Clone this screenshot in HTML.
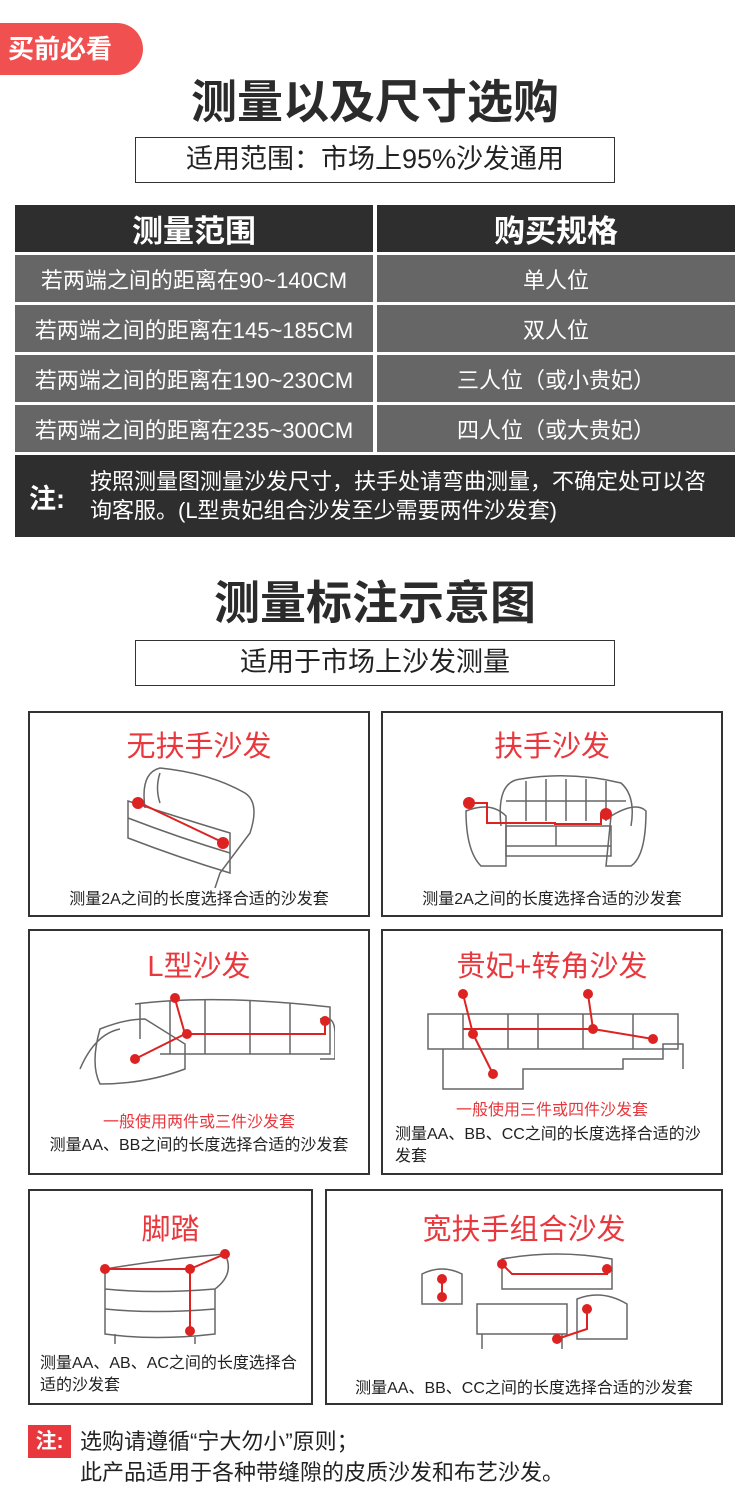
<!DOCTYPE html>
<html><head><meta charset="utf-8"><style>
*{margin:0;padding:0;box-sizing:border-box}
body{width:750px;height:1489px;background:#fff;position:relative;overflow:hidden;font-family:"Liberation Sans","Noto Sans CJK SC",sans-serif;color:#333}
.a{position:absolute}
.c{text-align:center}
.badge{left:0;top:23px;width:143px;height:52px;background:#f0504f;border-radius:0 26px 26px 0;color:#fff;font-size:26px;font-weight:bold;line-height:52px;padding-left:8px}
.t1{left:0;width:750px;font-size:46px;font-weight:bold;color:#2b2b2b}
.box{left:135px;width:480px;border:1.5px solid #333;font-size:27px;color:#222}
.cell{color:#fff;display:flex;align-items:center;justify-content:center}
.h{background:#2e2e2e;font-size:31px;font-weight:bold}
.g{background:#666;font-size:22px}
.card{border:2.5px solid #333}
.ct{color:#e8383d;font-size:29px;width:100%;text-align:center;position:absolute}
.cap{font-size:16px;color:#222;position:absolute;width:100%;text-align:center}
svg{position:absolute}
</style></head><body>
<div class="a badge">买前必看</div>
<div class="a t1 c" style="top:74px;line-height:56px">测量以及尺寸选购</div>
<div class="a box c" style="top:137px;height:46px;line-height:43px">适用范围：市场上95%沙发通用</div>

<div class="a cell h" style="left:15px;top:205px;width:358px;height:47px">测量范围</div>
<div class="a cell h" style="left:377px;top:205px;width:358px;height:47px">购买规格</div>
<div class="a cell g" style="left:15px;top:255px;width:358px;height:47px">若两端之间的距离在90~140CM</div>
<div class="a cell g" style="left:377px;top:255px;width:358px;height:47px">单人位</div>
<div class="a cell g" style="left:15px;top:305px;width:358px;height:47px">若两端之间的距离在145~185CM</div>
<div class="a cell g" style="left:377px;top:305px;width:358px;height:47px">双人位</div>
<div class="a cell g" style="left:15px;top:355px;width:358px;height:47px">若两端之间的距离在190~230CM</div>
<div class="a cell g" style="left:377px;top:355px;width:358px;height:47px">三人位（或小贵妃）</div>
<div class="a cell g" style="left:15px;top:405px;width:358px;height:47px">若两端之间的距离在235~300CM</div>
<div class="a cell g" style="left:377px;top:405px;width:358px;height:47px">四人位（或大贵妃）</div>
<div class="a" style="left:15px;top:455px;width:720px;height:82px;background:#2e2e2e;color:#fff">
 <div class="a" style="left:14px;top:22px;font-size:27px;font-weight:bold">注:</div>
 <div class="a" style="left:75px;top:12px;font-size:22px;line-height:29px;width:625px">按照测量图测量沙发尺寸，扶手处请弯曲测量，不确定处可以咨询客服。(L型贵妃组合沙发至少需要两件沙发套)</div>
</div>

<div class="a t1 c" style="top:575px;line-height:56px">测量标注示意图</div>
<div class="a box c" style="top:640px;height:46px;line-height:43px">适用于市场上沙发测量</div>

<div class="a card" style="left:28px;top:711px;width:342px;height:206px">
 <div class="ct" style="top:10px">无扶手沙发</div>
 <svg style="left:90px;top:50px" width="160" height="125" viewBox="0 0 160 125" fill="none" stroke="#666" stroke-width="1.5">
  <path d="M25 45 Q20 10 40 5 Q90 10 125 30 Q140 40 130 70 L100 110 L95 125"/>
  <path d="M40 40 Q35 25 40 10"/>
  <path d="M8 38 Q60 55 110 70 L110 110 Q60 95 8 75 Z"/>
  <path d="M8 55 Q60 75 110 90"/>
  <path d="M20 40 L100 78" stroke="#d22" stroke-width="2"/>
  <circle cx="18" cy="40" r="6" fill="#d22" stroke="none"/><circle cx="103" cy="80" r="6" fill="#d22" stroke="none"/>
 </svg>
 <div class="cap" style="top:172px">测量2A之间的长度选择合适的沙发套</div>
</div>
<div class="a card" style="left:381px;top:711px;width:342px;height:206px">
 <div class="ct" style="top:10px">扶手沙发</div>
 <svg style="left:78px;top:58px" width="190" height="105" viewBox="0 0 190 105" fill="none" stroke="#666" stroke-width="1.5">
  <path d="M40 55 Q35 10 60 8 Q110 0 160 12 Q175 25 170 55"/>
  <path d="M65 10 V50 M85 8 V50 M105 8 V50 M125 8 V50 M145 10 V50 M45 30 H165"/>
  <path d="M5 40 Q30 30 45 45 L45 95 H20 Q5 80 5 40 Z"/>
  <path d="M150 45 Q175 30 185 40 Q185 85 170 95 H145 Z"/>
  <path d="M45 55 H150 V85 H45 Z M95 55 V75 M45 75 H150"/>
  <path d="M8 32 H26 V52 H94 V53 H140 V44" stroke="#d22" stroke-width="2"/>
  <circle cx="8" cy="32" r="6" fill="#d22" stroke="none"/><circle cx="145" cy="43" r="6" fill="#d22" stroke="none"/>
 </svg>
 <div class="cap" style="top:172px">测量2A之间的长度选择合适的沙发套</div>
</div>
<div class="a card" style="left:28px;top:929px;width:342px;height:246px">
 <div class="ct" style="top:12px">L型沙发</div>
 <svg style="left:35px;top:58px" width="270" height="100" viewBox="0 0 270 100" fill="none" stroke="#666" stroke-width="1.5">
  <path d="M70 15 Q150 5 265 18 L265 65 H95 M75 15 V50"/>
  <path d="M105 12 V65 M140 10 V65 M185 12 V65 M225 14 V65"/>
  <path d="M35 40 Q60 30 80 30 L120 55 V80 Q80 95 35 95 Q25 75 35 40 Z M15 80 Q30 45 55 40"/>
  <path d="M255 30 Q270 25 270 45 V70 H255"/>
  <path d="M110 10 L120 45 H260 V32 M120 45 L70 70" stroke="#d22" stroke-width="2"/>
  <circle cx="110" cy="9" r="5" fill="#d22" stroke="none"/><circle cx="122" cy="45" r="5" fill="#d22" stroke="none"/><circle cx="260" cy="32" r="5" fill="#d22" stroke="none"/><circle cx="70" cy="70" r="5" fill="#d22" stroke="none"/>
 </svg>
 <div class="a c" style="left:0;width:100%;top:177px;font-size:16px;color:#e8383d">一般使用两件或三件沙发套</div>
 <div class="cap" style="top:200px">测量AA、BB之间的长度选择合适的沙发套</div>
</div>
<div class="a card" style="left:381px;top:929px;width:342px;height:246px">
 <div class="ct" style="top:12px">贵妃+转角沙发</div>
 <svg style="left:40px;top:58px" width="265" height="105" viewBox="0 0 265 105" fill="none" stroke="#666" stroke-width="1.5">
  <path d="M5 25 H255 V60 H5 Z M40 25 V60 M85 25 V60 M115 25 V60 M160 25 V60 M210 25 V60"/>
  <path d="M20 60 V100 H100 V80 H200 V70 H240 V55 H260 V80"/>
  <path d="M40 5 L50 45 L70 85 M40 40 H170 M165 5 L170 40 L230 50" stroke="#d22" stroke-width="2"/>
  <circle cx="40" cy="5" r="5" fill="#d22" stroke="none"/><circle cx="50" cy="45" r="5" fill="#d22" stroke="none"/><circle cx="70" cy="85" r="5" fill="#d22" stroke="none"/><circle cx="165" cy="5" r="5" fill="#d22" stroke="none"/><circle cx="170" cy="40" r="5" fill="#d22" stroke="none"/><circle cx="230" cy="50" r="5" fill="#d22" stroke="none"/>
 </svg>
 <div class="a c" style="left:0;width:100%;top:165px;font-size:16px;color:#e8383d">一般使用三件或四件沙发套</div>
 <div class="a" style="left:12px;top:193px;font-size:16px;line-height:22px;color:#222;width:320px">测量AA、BB、CC之间的长度选择合适的沙发套</div>
</div>
<div class="a card" style="left:28px;top:1189px;width:285px;height:216px">
 <div class="ct" style="top:15px">脚踏</div>
 <svg style="left:65px;top:58px" width="150" height="100" viewBox="0 0 150 100" fill="none" stroke="#666" stroke-width="1.5">
  <path d="M10 20 Q70 10 130 5 Q140 25 120 40 Q60 45 10 40 Z M10 40 V85 Q60 92 120 85 V40"/>
  <path d="M10 60 Q60 65 120 60"/>
  <path d="M20 85 V95 M100 88 V95"/>
  <path d="M10 20 H95 L130 5 M95 20 V80" stroke="#d22" stroke-width="2"/>
  <circle cx="10" cy="20" r="5" fill="#d22" stroke="none"/><circle cx="95" cy="20" r="5" fill="#d22" stroke="none"/><circle cx="130" cy="5" r="5" fill="#d22" stroke="none"/><circle cx="95" cy="82" r="5" fill="#d22" stroke="none"/>
 </svg>
 <div class="a" style="left:10px;top:162px;font-size:16px;line-height:22px;color:#222;width:270px">测量AA、AB、AC之间的长度选择合适的沙发套</div>
</div>
<div class="a card" style="left:325px;top:1189px;width:398px;height:216px">
 <div class="ct" style="top:15px">宽扶手组合沙发</div>
 <svg style="left:90px;top:58px" width="220" height="115" viewBox="0 0 220 115" fill="none" stroke="#666" stroke-width="1.5">
  <path d="M85 10 Q140 0 195 10 V40 H85 Z M5 25 Q25 15 45 25 V55 H5 Z M160 50 Q185 40 210 55 V90 H160 Z M60 55 H150 V85 H60 Z M65 85 V100 M145 85 V100"/>
  <path d="M25 30 L25 45 M85 15 L95 25 H190 V20 M140 90 L170 80 V60" stroke="#d22" stroke-width="2"/>
  <circle cx="25" cy="30" r="5" fill="#d22" stroke="none"/><circle cx="25" cy="48" r="5" fill="#d22" stroke="none"/><circle cx="85" cy="15" r="5" fill="#d22" stroke="none"/><circle cx="190" cy="20" r="5" fill="#d22" stroke="none"/><circle cx="140" cy="90" r="5" fill="#d22" stroke="none"/><circle cx="170" cy="60" r="5" fill="#d22" stroke="none"/>
 </svg>
 <div class="cap" style="top:183px">测量AA、BB、CC之间的长度选择合适的沙发套</div>
</div>

<div class="a" style="left:28px;top:1425px;width:43px;height:33px;background:#e8383d;color:#fff;font-size:21px;font-weight:bold;line-height:33px;text-align:center">注:</div>
<div class="a" style="left:80px;top:1426px;font-size:22px;line-height:31px;color:#222">选购请遵循“宁大勿小”原则；<br>此产品适用于各种带缝隙的皮质沙发和布艺沙发。</div>
</body></html>
